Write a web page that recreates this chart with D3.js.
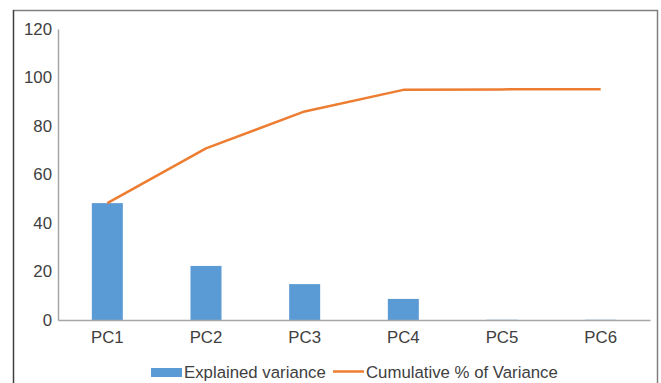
<!DOCTYPE html>
<html>
<head>
<meta charset="utf-8">
<script src="https://cdn.jsdelivr.net/npm/d3@7/dist/d3.min.js"></script>
<style>
  html, body { margin: 0; padding: 0; background: #fff; }
  svg { display: block; font-family: "Liberation Sans", Arial, sans-serif; }
</style>
</head>
<body>
<svg id="chart" width="661" height="383"></svg>
<script>
// Principal components and their variance shares (%)
const components = ["PC1", "PC2", "PC3", "PC4", "PC5", "PC6"];
const explainedVariance = [48.2, 22.3, 14.8, 8.7, 0.1, 0.1];
const cumulativeVariance = [48.2, 70.8, 86.0, 94.9, 95.1, 95.2];
const yTicks = [0, 20, 40, 60, 80, 100, 120];
const legendLabels = ["Explained variance", "Cumulative % of Variance"];

const svg = d3.select("#chart");
const W = 661, H = 383;
const margin = { left: 58, right: 11, top: 29, bottom: 63 };
const fontSize = "16.8px";
const textColor = "#404040";
const axisColor = "#a6a6a6";

// Outer frame
svg.append("rect")
  .attr("x", 13.5).attr("y", 10.5)
  .attr("width", 644).attr("height", 400)
  .attr("fill", "none").attr("stroke", "#7f7f7f").attr("stroke-width", 1.5);
svg.append("line")
  .attr("x1", 13.5).attr("x2", 13.5).attr("y1", 10).attr("y2", H)
  .attr("stroke", "#404040").attr("stroke-width", 1.2);

const x = d3.scaleBand()
  .domain(components)
  .range([margin.left, W - margin.right]);

const y = d3.scaleLinear()
  .domain([0, 120])
  .range([H - margin.bottom, margin.top]);

// Y axis
const yAxis = svg.append("g")
  .attr("transform", `translate(${margin.left},0)`)
  .call(d3.axisLeft(y).tickValues(yTicks).tickSize(0).tickPadding(6));
yAxis.select(".domain").attr("stroke", axisColor).attr("stroke-width", 1.5);
yAxis.selectAll("text").attr("fill", textColor).style("font-size", fontSize)
  .attr("font-family", "Liberation Sans, Arial, sans-serif");

// Bars
const barW = 31;
svg.append("g").selectAll("rect")
  .data(components)
  .join("rect")
  .attr("x", d => x(d) + x.bandwidth() / 2 - barW / 2)
  .attr("width", barW)
  .attr("y", (d, i) => y(explainedVariance[i]))
  .attr("height", (d, i) => y(0) - y(explainedVariance[i]))
  .attr("fill", "#5b9bd5");

// X axis
const xAxis = svg.append("g")
  .attr("transform", `translate(0,${y(0)})`)
  .call(d3.axisBottom(x).tickSize(0).tickPadding(11));
xAxis.select(".domain").attr("stroke", axisColor).attr("stroke-width", 1.5);
xAxis.selectAll("text").attr("fill", textColor).style("font-size", fontSize)
  .attr("font-family", "Liberation Sans, Arial, sans-serif");

// Cumulative line
const line = d3.line()
  .x((d, i) => x(components[i]) + x.bandwidth() / 2)
  .y(d => y(d));
svg.append("path")
  .datum(cumulativeVariance)
  .attr("d", line)
  .attr("fill", "none")
  .attr("stroke", "#ed7d31")
  .attr("stroke-width", 2.5)
  .attr("stroke-linejoin", "round");

// Legend
const lg = svg.append("g");
lg.append("rect").attr("x", 151).attr("y", 368).attr("width", 31).attr("height", 9).attr("fill", "#5b9bd5");
lg.append("text").attr("x", 184).attr("y", 378).text(legendLabels[0])
  .attr("fill", textColor).style("font-size", fontSize);
lg.append("line").attr("x1", 333).attr("x2", 364).attr("y1", 371.5).attr("y2", 371.5)
  .attr("stroke", "#ed7d31").attr("stroke-width", 2.5);
lg.append("text").attr("x", 366).attr("y", 378).text(legendLabels[1])
  .attr("fill", textColor).style("font-size", fontSize);
</script>
</body>
</html>
